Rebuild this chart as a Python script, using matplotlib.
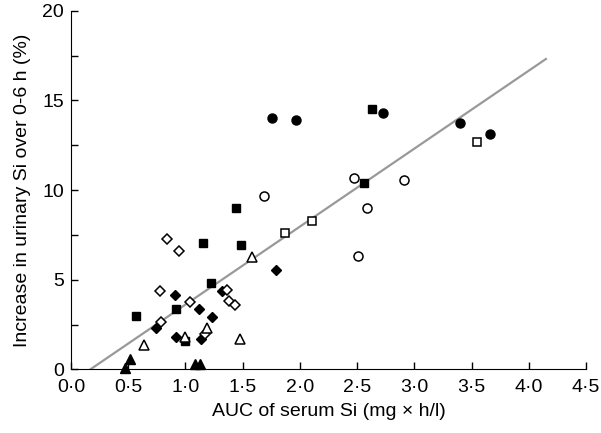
import matplotlib
matplotlib.use("Agg")
import matplotlib.pyplot as plt
from matplotlib.ticker import MultipleLocator, FuncFormatter

plt.rcParams['font.family'] = ['Liberation Sans', 'DejaVu Sans']

# filled circles
fc_x = [1.76, 1.97, 2.73, 3.40, 3.66]
fc_y = [14.0, 13.9, 14.3, 13.75, 13.15]
# open circles
oc_x = [1.69, 2.47, 2.91, 2.59, 2.51]
oc_y = [9.65, 10.65, 10.55, 9.0, 6.35]
# filled squares
fs_x = [2.63, 2.56, 1.44, 1.49, 1.15, 1.22, 0.92, 0.57, 1.00]
fs_y = [14.5, 10.4, 9.0, 6.95, 7.05, 4.8, 3.35, 2.95, 1.6]
# open squares
os_x = [1.87, 2.11, 3.55]
os_y = [7.6, 8.3, 12.7]
# filled diamonds
fd_x = [1.79, 0.91, 1.12, 1.23, 0.74, 0.92, 1.14, 1.32]
fd_y = [5.55, 4.15, 3.35, 2.9, 2.3, 1.8, 1.7, 4.35]
# open diamonds
od_x = [0.84, 0.94, 0.78, 1.04, 1.36, 1.38, 1.43, 0.79, 1.17]
od_y = [7.25, 6.6, 4.35, 3.75, 4.45, 3.8, 3.6, 2.65, 1.95]
# open triangles
ot_x = [0.64, 1.00, 1.48, 1.58, 1.19]
ot_y = [1.35, 1.8, 1.7, 6.25, 2.3]
# filled triangles
ft_x = [0.52, 0.47, 1.08, 1.13]
ft_y = [0.55, 0.05, 0.3, 0.3]

# regression line
line_x = [0.17, 4.15]
slope = 4.35
line_y = [slope * (v - 0.17) for v in line_x]

fig = plt.figure(figsize=(6.01, 4.33), dpi=100)
ax = fig.add_axes([0.118, 0.147, 0.857, 0.828])

ax.plot(line_x, line_y, color='#999999', lw=1.6, zorder=1)

kw = dict(linestyle='none', clip_on=False, zorder=3)
ax.plot(fc_x, fc_y, 'o', ms=6.5, mfc='black', mec='black', **kw)
ax.plot(oc_x, oc_y, 'o', ms=6.5, mfc='white', mec='black', mew=1.1, **kw)
ax.plot(fs_x, fs_y, 's', ms=5.5, mfc='black', mec='black', **kw)
ax.plot(os_x, os_y, 's', ms=5.5, mfc='white', mec='black', mew=1.1, **kw)
ax.plot(fd_x, fd_y, 'D', ms=5.5, mfc='black', mec='black', **kw)
ax.plot(od_x, od_y, 'D', ms=5.5, mfc='white', mec='black', mew=1.1, **kw)
ax.plot(ot_x, ot_y, '^', ms=7, mfc='white', mec='black', mew=1.1, **kw)
ax.plot(ft_x, ft_y, '^', ms=7, mfc='black', mec='black', **kw)

ax.set_xlim(0, 4.5)
ax.set_ylim(0, 20)
ax.spines['top'].set_visible(False)
ax.spines['right'].set_visible(False)
ax.xaxis.set_major_locator(MultipleLocator(0.5))
ax.yaxis.set_major_locator(MultipleLocator(5))
ax.yaxis.set_minor_locator(MultipleLocator(2.5))
ax.xaxis.set_major_formatter(FuncFormatter(lambda v, p: f"{v:.1f}".replace('.', '\u00b7')))
ax.tick_params(which='both', direction='in', length=5, width=1, labelsize=14)
ax.tick_params(axis='x', pad=7)
ax.tick_params(axis='y', pad=5)

ax.set_xlabel('AUC of serum Si (mg \u00d7 h/l)', fontsize=14, labelpad=5)
ax.set_ylabel('Increase in urinary Si over 0-6 h (%)', fontsize=14, labelpad=8)

fig.savefig('out.png', dpi=100)
